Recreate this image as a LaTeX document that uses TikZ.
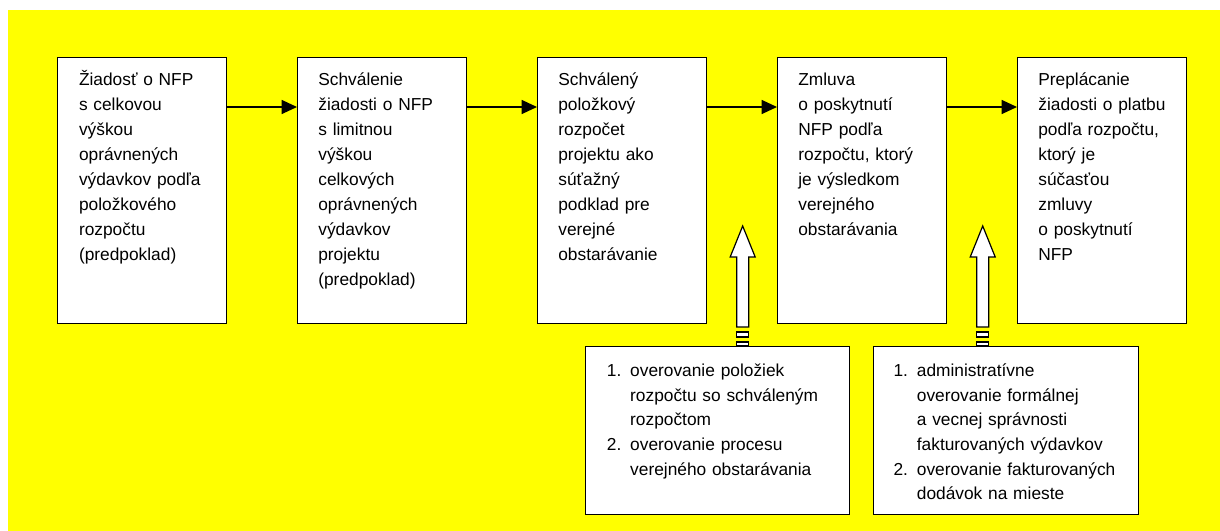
\documentclass[tikz,border=0pt]{standalone}
\usepackage{fontspec}
\setmainfont{Liberation Sans}
\usetikzlibrary{arrows.meta}
\definecolor{bgyellow}{RGB}{255,255,0}
\newcommand{\itm}[1]{\makebox[17.5pt][l]{#1}}
\newcommand{\ind}{\hspace*{17.5pt}}
\begin{document}
\begin{tikzpicture}[x=0.75pt,y=-0.75pt,
  box/.style={draw=black, line width=1pt, fill=white, anchor=north west, minimum width=126.75pt, minimum height=199.5pt, inner sep=0pt},
  lbox/.style={draw=black, line width=1pt, fill=white, anchor=north west, minimum height=126pt, inner sep=0pt},
  txt/.style={anchor=north west, inner sep=0pt, align=left, text width=150pt, font=\fontsize{13pt}{18.75pt}\selectfont},
  ltxt/.style={anchor=north west, inner sep=0pt, align=left, text width=210pt, font=\fontsize{13pt}{18.4pt}\selectfont},
  arr/.style={line width=0.9pt, -{Triangle[length=11.5pt,width=10.5pt]}},
  hollow/.style={draw=black, line width=0.9pt, fill=white},
  uparrow/.pic={
    \draw[hollow] (-6,-19) -- (-6,-89) -- (-12.5,-89) -- (0,-120) -- (12.5,-89) -- (6,-89) -- (6,-19) -- cycle;
    \draw[hollow] (-6,-14) rectangle (6,-9);
    \draw[hollow] (-6,-4) rectangle (6,0);
  }]
\useasboundingbox (0,0) rectangle (1220,531);
\fill[white] (0,0) rectangle (1220,531);
\fill[bgyellow] (8,10) rectangle (1220,531);

% top boxes
\node[box] (b1) at (57,57) {};
\node[box] (b2) at (297,57) {};
\node[box] (b3) at (537,57) {};
\node[box] (b4) at (777,57) {};
\node[box] (b5) at (1017,57) {};

\node[txt] (t1) at ([xshift=16.3pt,yshift=-8.25pt]b1.north west) {\strut Žiadosť o NFP\\ s celkovou\\ výškou\\ oprávnených\\ výdavkov podľa\\ položkového\\ rozpočtu\\ (predpoklad)};
\node[txt] (t2) at ([xshift=15.8pt,yshift=-8.25pt]b2.north west) {\strut Schválenie\\ žiadosti o NFP\\ s limitnou\\ výškou\\ celkových\\ oprávnených\\ výdavkov\\ projektu\\ (predpoklad)};
\node[txt] (t3) at ([xshift=15.8pt,yshift=-8.25pt]b3.north west) {\strut Schválený\\ položkový\\ rozpočet\\ projektu ako\\ súťažný\\ podklad pre\\ verejné\\ obstarávanie};
\node[txt] (t4) at ([xshift=15.8pt,yshift=-8.25pt]b4.north west) {\strut Zmluva\\ o poskytnutí\\ NFP podľa\\ rozpočtu, ktorý\\ je výsledkom\\ verejného\\ obstarávania};
\node[txt] (t5) at ([xshift=15.8pt,yshift=-8.25pt]b5.north west) {\strut Preplácanie\\ žiadosti o platbu\\ podľa rozpočtu,\\ ktorý je\\ súčasťou\\ zmluvy\\ o poskytnutí\\ NFP};

% horizontal arrows
\draw[arr] ([yshift=-37.5pt]b1.north east) -- ([yshift=-37.5pt]b2.north west);
\draw[arr] ([yshift=-37.5pt]b2.north east) -- ([yshift=-37.5pt]b3.north west);
\draw[arr] ([yshift=-37.5pt]b3.north east) -- ([yshift=-37.5pt]b4.north west);
\draw[arr] ([yshift=-37.5pt]b4.north east) -- ([yshift=-37.5pt]b5.north west);

% bottom boxes
\node[lbox, minimum width=198pt] (ba) at (585,346) {};
\node[lbox, minimum width=198.75pt] (bb) at (873,346) {};

\node[ltxt] (ta) at ([xshift=16.2pt,yshift=-10.1pt]ba.north west) {\strut\itm{1.}overovanie položiek\\ \ind rozpočtu so schváleným\\ \ind rozpočtom\\ \itm{2.}overovanie procesu\\ \ind verejného obstarávania};
\node[ltxt] (tb) at ([xshift=15.2pt,yshift=-10.1pt]bb.north west) {\strut\itm{1.}administratívne\\ \ind overovanie formálnej\\ \ind a vecnej správnosti\\ \ind fakturovaných výdavkov\\ \itm{2.}overovanie fakturovaných\\ \ind dodávok na mieste};

% hollow up arrows
\coordinate (ua) at ([xshift=18.75pt]ba.north);
\coordinate (ub) at ([xshift=-17.6pt]bb.north);
\pic at (ua) {uparrow};
\pic at (ub) {uparrow};
\end{tikzpicture}
\end{document}
